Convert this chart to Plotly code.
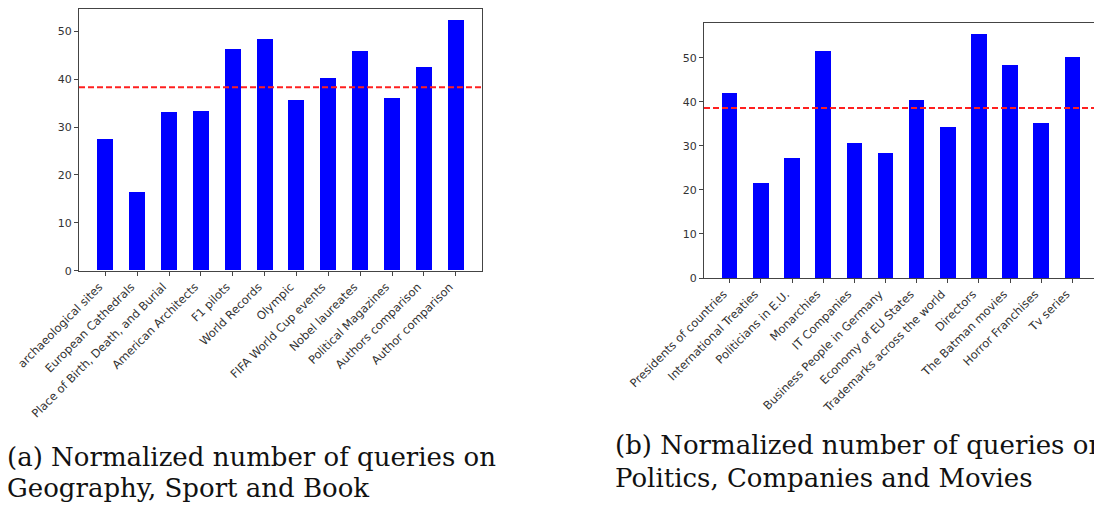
import plotly.graph_objects as go

# ---------------- data ----------------
cats_a = ["archaeological sites", "European Cathedrals", "Place of Birth, Death, and Burial",
          "American Architects", "F1 pilots", "World Records", "Olympic",
          "FIFA World Cup events", "Nobel laureates", "Political Magazines",
          "Authors comparison", "Author comparison"]
vals_a = [27.5, 16.4, 33.0, 33.3, 46.2, 48.4, 35.6, 40.1, 45.9, 36.1, 42.4, 52.2]
mean_a = 38.3

cats_b = ["Presidents of countries", "International Treaties", "Politicians in E.U.",
          "Monarchies", "IT Companies", "Business People in Germany",
          "Economy of EU States", "Trademarks across the world", "Directors",
          "The Batman movies", "Horror Franchises", "Tv series"]
vals_b = [42.1, 21.7, 27.4, 51.7, 30.8, 28.4, 40.5, 34.3, 55.4, 48.5, 35.3, 50.3]
mean_b = 38.6

yticks = [0, 10, 20, 30, 40, 50]

caption_a = ["(a) Normalized number of queries on", "Geography, Sport and Book"]
caption_b = ["(b) Normalized number of queries on", "Politics, Companies and Movies"]

# ---------------- figure ----------------
W, H = 1094, 509
fig = go.Figure()

xa = list(range(len(cats_a)))
xb = list(range(len(cats_b)))

fig.add_trace(go.Bar(x=xa, y=vals_a, width=0.5, marker=dict(color="#0000ff", line=dict(width=0)),
                     xaxis="x", yaxis="y", showlegend=False))
fig.add_trace(go.Bar(x=xb, y=vals_b, width=0.5, marker=dict(color="#0000ff", line=dict(width=0)),
                     xaxis="x2", yaxis="y2", showlegend=False))

# mean lines (axhline)
fig.add_shape(type="line", xref="x domain", yref="y", x0=0, x1=1, y0=mean_a, y1=mean_a,
              line=dict(color="#ff2020", width=2, dash="6px,3px"))
fig.add_shape(type="line", xref="x2 domain", yref="y2", x0=0, x1=1, y0=mean_b, y1=mean_b,
              line=dict(color="#ff2020", width=2, dash="6px,3px"))

def px(v):
    return v / W

def py(v):
    return 1 - v / H

tickfont = dict(family="DejaVu Sans", size=11.5, color="#333")
yfont = dict(family="DejaVu Sans", size=11, color="#333")
axis_common = dict(showgrid=False, zeroline=False, showline=True, linecolor="#444",
                   linewidth=1, ticks="outside", ticklen=4, tickcolor="#444", tickwidth=1,
                   automargin=False)

fig.update_layout(
    width=W, height=H, margin=dict(l=0, r=0, t=0, b=0),
    paper_bgcolor="white", plot_bgcolor="white", bargap=0,
    xaxis=dict(domain=[px(79), px(482)], range=[-0.825, 11.825], tickmode="array",
               tickvals=xa, ticktext=cats_a, tickangle=-45, tickfont=tickfont,
               ticklabelshift=-6, mirror=True, anchor="y", **axis_common),
    yaxis=dict(domain=[py(270.7), py(9.3)], range=[0, 54.6], tickmode="array",
               tickvals=yticks, tickfont=yfont, mirror=True, anchor="x", **axis_common),
    xaxis2=dict(domain=[px(704), 1.0], range=[-0.825, 11.695], tickmode="array",
                tickvals=xb, ticktext=cats_b, tickangle=-45, tickfont=tickfont,
                ticklabelshift=-6, mirror=True, anchor="y2", **axis_common),
    yaxis2=dict(domain=[py(278), py(22.7)], range=[0, 58.0], tickmode="array",
                tickvals=yticks, tickfont=yfont, mirror=False, anchor="x2", **axis_common),
)

capfont = dict(family="DejaVu Serif", size=26, color="#111")
anns = [
    (caption_a[0], 5, 457), (caption_a[1], 5, 488),
    (caption_b[0], 613, 445), (caption_b[1], 613, 478),
]
for txt, x, y in anns:
    fig.add_annotation(text=txt, xref="paper", yref="paper", x=px(x), y=py(y),
                       xanchor="left", yanchor="middle", showarrow=False, font=capfont)

fig.write_html("out.html")
